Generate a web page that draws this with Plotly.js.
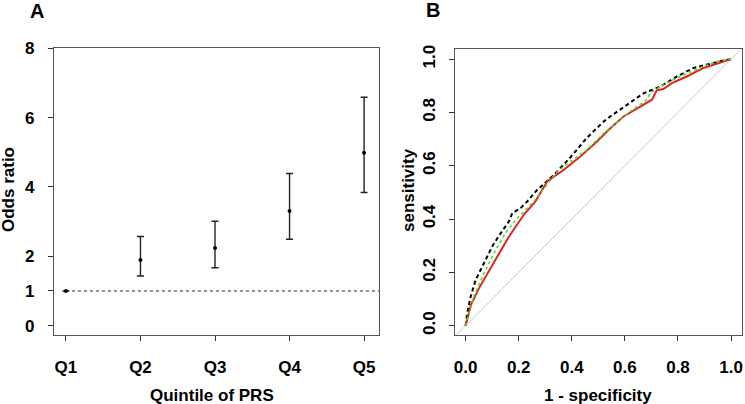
<!DOCTYPE html>
<html>
<head>
<meta charset="utf-8">
<script src="https://cdn.plot.ly/plotly-3.0.1.min.js"></script>
<style>html,body{margin:0;padding:0;background:#fff;}#plot{width:745px;height:404px;}</style>
</head>
<body>
<div id="plot"></div>
<script>
// Panel A data
var quintiles = ['Q1', 'Q2', 'Q3', 'Q4', 'Q5'];
var oddsRatio = [1, 1.89, 2.24, 3.31, 4.99];
var ciLow = [1, 1.43, 1.67, 2.49, 3.84];
var ciHigh = [1, 2.57, 3.01, 4.39, 6.59];
var orTicks = [0, 1, 2, 4, 6, 8];
var refOR = 1;

// Panel B data (ROC curves)
var blackFpr = [0, 0.006, 0.019, 0.038, 0.069, 0.10, 0.132, 0.163, 0.176, 0.207, 0.232, 0.27, 0.332, 0.395, 0.457, 0.52, 0.545, 0.608, 0.67, 0.733, 0.796, 0.858, 0.921, 0.971, 1];
var blackTpr = [0, 0.047, 0.109, 0.172, 0.234, 0.297, 0.347, 0.391, 0.422, 0.441, 0.466, 0.51, 0.565, 0.632, 0.705, 0.766, 0.785, 0.83, 0.872, 0.897, 0.935, 0.967, 0.983, 0.995, 1];
var redFpr = [0, 0.019, 0.05, 0.088, 0.119, 0.163, 0.188, 0.219, 0.263, 0.307, 0.37, 0.432, 0.495, 0.545, 0.595, 0.658, 0.702, 0.72, 0.745, 0.777, 0.833, 0.896, 0.959, 1];
var redTpr = [0, 0.075, 0.14, 0.203, 0.259, 0.334, 0.372, 0.416, 0.466, 0.541, 0.585, 0.635, 0.691, 0.741, 0.785, 0.822, 0.848, 0.883, 0.888, 0.91, 0.935, 0.967, 0.988, 1];
var greenFpr = [0, 0.031, 0.069, 0.113, 0.15, 0.194, 0.257, 0.282, 0.345, 0.395, 0.457, 0.52, 0.583, 0.62, 0.683, 0.695, 0.745, 0.82, 0.896, 0.959, 1];
var greenTpr = [0, 0.109, 0.197, 0.284, 0.347, 0.403, 0.466, 0.497, 0.578, 0.616, 0.66, 0.722, 0.772, 0.804, 0.848, 0.873, 0.904, 0.941, 0.973, 0.995, 1];
var rocTicks = [0, 0.2, 0.4, 0.6, 0.8, 1.0];
var rocTickText = ['0.0', '0.2', '0.4', '0.6', '0.8', '1.0'];

var W = 745, H = 404;
function px(x) { return x / W; }
function py(y) { return 1 - y / H; }

var errPlus = oddsRatio.map(function (v, i) { return ciHigh[i] - v; });
var errMinus = oddsRatio.map(function (v, i) { return v - ciLow[i]; });

var FONT = 'Liberation Sans, Arial, sans-serif';
var tickFont = {family: FONT, size: 17, color: '#000', weight: 'bold'};

var traces = [
  {
    x: quintiles, y: oddsRatio, type: 'scatter', mode: 'markers',
    xaxis: 'x', yaxis: 'y',
    marker: {color: '#000', size: 4},
    error_y: {type: 'data', symmetric: false, array: errPlus, arrayminus: errMinus,
      color: '#222', thickness: 1.4, width: 3.5},
    showlegend: false, hoverinfo: 'none'
  },
  {
    x: blackFpr, y: blackTpr, type: 'scatter', mode: 'lines', xaxis: 'x2', yaxis: 'y2',
    line: {color: '#000', width: 2, dash: '4px,3px'}, showlegend: false, hoverinfo: 'none'
  },
  {
    x: redFpr, y: redTpr, type: 'scatter', mode: 'lines', xaxis: 'x2', yaxis: 'y2',
    line: {color: '#e3231b', width: 2}, showlegend: false, hoverinfo: 'none'
  },
  {
    x: greenFpr, y: greenTpr, type: 'scatter', mode: 'lines', xaxis: 'x2', yaxis: 'y2',
    line: {color: '#3ee03e', width: 1.6, dash: 'dot'}, showlegend: false, hoverinfo: 'none'
  }
];

var axBase = {
  showgrid: false, zeroline: false, showline: true, mirror: true,
  linecolor: '#555', linewidth: 1.2, ticks: 'outside', ticklen: 5, tickwidth: 1,
  tickcolor: '#333', tickfont: tickFont, fixedrange: true
};
function ax(o) { var r = {}; for (var k in axBase) r[k] = axBase[k]; for (var k2 in o) r[k2] = o[k2]; return r; }

var layout = {
  width: W, height: H,
  margin: {l: 0, r: 0, t: 0, b: 0},
  paper_bgcolor: '#fff', plot_bgcolor: '#fff',
  font: {family: FONT, color: '#000'},
  xaxis: ax({domain: [px(54), px(379)], anchor: 'y', type: 'category',
    range: [-0.16, 4.2], ticklabelstandoff: 11}),
  yaxis: ax({domain: [py(335), py(48.3)], anchor: 'x', range: [-0.27, 8],
    tickvals: orTicks, ticklabelstandoff: 10}),
  xaxis2: ax({domain: [px(455), px(741.7)], anchor: 'y2', range: [-0.04, 1.04],
    tickvals: rocTicks, ticktext: rocTickText, ticklabelstandoff: 11}),
  yaxis2: ax({domain: [py(335), py(49.3)], anchor: 'x2', range: [-0.035, 1.037],
    tickvals: rocTicks, ticktext: rocTickText, tickangle: -90, ticklabelstandoff: 7}),
  shapes: [
    {type: 'line', xref: 'x', yref: 'y', x0: 0, x1: 4.2, y0: refOR, y1: refOR,
      line: {color: '#222', width: 1, dash: '3px,3px'}},
    {type: 'line', xref: 'x2', yref: 'y2', x0: -0.04, y0: -0.04, x1: 1.04, y1: 1.04,
      line: {color: '#c8c8c8', width: 1}, layer: 'below'}
  ],
  annotations: [
    {text: '<b>A</b>', xref: 'paper', yref: 'paper', x: px(37), y: py(11), showarrow: false,
      font: {family: FONT, size: 20, color: '#000'}, xanchor: 'center', yanchor: 'middle'},
    {text: '<b>B</b>', xref: 'paper', yref: 'paper', x: px(433), y: py(10), showarrow: false,
      font: {family: FONT, size: 20, color: '#000'}, xanchor: 'center', yanchor: 'middle'},
    {text: '<b>Odds ratio</b>', xref: 'paper', yref: 'paper', x: px(8), y: py(190), showarrow: false,
      textangle: -90, font: {family: FONT, size: 17, color: '#000'}, xanchor: 'center', yanchor: 'middle'},
    {text: '<b>Quintile of PRS</b>', xref: 'paper', yref: 'paper', x: px(212), y: py(395), showarrow: false,
      font: {family: FONT, size: 17, color: '#000'}, xanchor: 'center', yanchor: 'middle'},
    {text: '<b>sensitivity</b>', xref: 'paper', yref: 'paper', x: px(408), y: py(190), showarrow: false,
      textangle: -90, font: {family: FONT, size: 17, color: '#000'}, xanchor: 'center', yanchor: 'middle'},
    {text: '<b>1 - specificity</b>', xref: 'paper', yref: 'paper', x: px(598), y: py(395), showarrow: false,
      font: {family: FONT, size: 17, color: '#000'}, xanchor: 'center', yanchor: 'middle'}
  ]
};

Plotly.newPlot('plot', traces, layout, {staticPlot: true, displayModeBar: false});
</script>
</body>
</html>
